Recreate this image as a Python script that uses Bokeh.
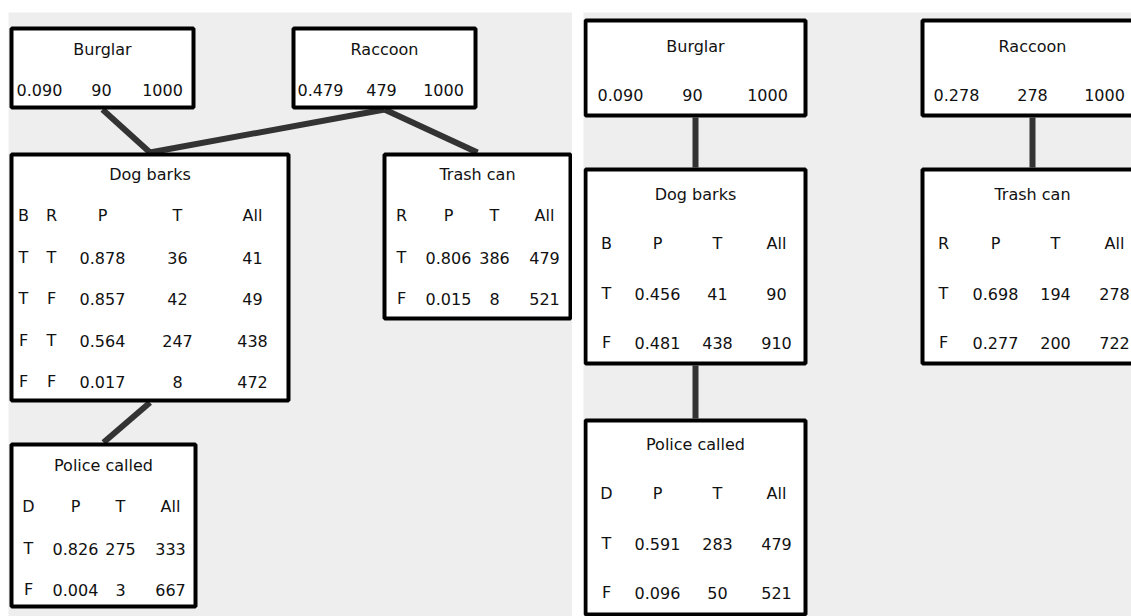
from bokeh.plotting import figure
from bokeh.layouts import row
from bokeh.models import Range1d
from bokeh.core.properties import value
from bokeh.embed import file_html
from bokeh.resources import INLINE

# ---------------- data: left network ----------------
L_burglar = [0.090, 90, 1000]
L_raccoon = [0.479, 479, 1000]

L_dog_header = ["B", "R", "P", "T", "All"]
L_dog_b = ["T", "T", "F", "F"]
L_dog_r = ["T", "F", "T", "F"]
L_dog_p = [0.878, 0.857, 0.564, 0.017]
L_dog_t = [36, 42, 247, 8]
L_dog_all = [41, 49, 438, 472]

L_trash_header = ["R", "P", "T", "All"]
L_trash_r = ["T", "F"]
L_trash_p = [0.806, 0.015]
L_trash_t = [386, 8]
L_trash_all = [479, 521]

L_police_header = ["D", "P", "T", "All"]
L_police_d = ["T", "F"]
L_police_p = [0.826, 0.004]
L_police_t = [275, 3]
L_police_all = [333, 667]

# ---------------- data: right network ----------------
R_burglar = [0.090, 90, 1000]
R_raccoon = [0.278, 278, 1000]

R_dog_header = ["B", "P", "T", "All"]
R_dog_b = ["T", "F"]
R_dog_p = [0.456, 0.481]
R_dog_t = [41, 438]
R_dog_all = [90, 910]

R_trash_header = ["R", "P", "T", "All"]
R_trash_r = ["T", "F"]
R_trash_p = [0.698, 0.277]
R_trash_t = [194, 200]
R_trash_all = [278, 722]

R_police_header = ["D", "P", "T", "All"]
R_police_d = ["T", "F"]
R_police_p = [0.591, 0.096]
R_police_t = [283, 50]
R_police_all = [479, 521]


def fmt(c):
    if isinstance(c, float):
        return f"{c:.3f}"
    return str(c)


def table(header, *cols):
    rows = [] if header is None else [list(header)]
    for r in zip(*cols):
        rows.append([fmt(c) for c in r])
    return rows


L_tables = {
    "Burglar": table(None, *[[v] for v in L_burglar]),
    "Raccoon": table(None, *[[v] for v in L_raccoon]),
    "Dog barks": table(L_dog_header, L_dog_b, L_dog_r, L_dog_p, L_dog_t, L_dog_all),
    "Trash can": table(L_trash_header, L_trash_r, L_trash_p, L_trash_t, L_trash_all),
    "Police called": table(L_police_header, L_police_d, L_police_p, L_police_t, L_police_all),
}
R_tables = {
    "Burglar": table(None, *[[v] for v in R_burglar]),
    "Raccoon": table(None, *[[v] for v in R_raccoon]),
    "Dog barks": table(R_dog_header, R_dog_b, R_dog_p, R_dog_t, R_dog_all),
    "Trash can": table(R_trash_header, R_trash_r, R_trash_p, R_trash_t, R_trash_all),
    "Police called": table(R_police_header, R_police_d, R_police_p, R_police_t, R_police_all),
}

# ---------------- layout (page-pixel coordinates) ----------------
# box: (left, top, right, bottom), title y, row ys, column xs
L_layout = {
    "Burglar": ((9, 26, 195, 109), 49, [89], [39, 101, 162]),
    "Raccoon": ((291, 26, 477, 109), 49, [89], [320, 381, 443]),
    "Dog barks": ((9, 152, 290, 402), 174, [215, 257, 298, 340, 381], [23, 51, 102, 177, 252]),
    "Trash can": ((382, 152, 572, 320), 174, [215, 257, 298], [401, 448, 494, 544]),
    "Police called": ((9, 442, 197, 608), 465, [506, 548, 589], [28, 75, 120, 170]),
}
L_edges = [("Burglar", "Dog barks"), ("Raccoon", "Dog barks"),
           ("Raccoon", "Trash can"), ("Dog barks", "Police called")]

R_layout = {
    "Burglar": ((583, 18, 807, 117), 46, [94], [620, 692, 767]),
    "Raccoon": ((920, 18, 1144, 117), 46, [94], [956, 1032, 1104]),
    "Dog barks": ((583, 167, 807, 365), 194, [243, 293, 342], [606, 657, 717, 776]),
    "Trash can": ((920, 167, 1144, 365), 194, [243, 293, 342], [943, 995, 1055, 1114]),
    "Police called": ((583, 418, 807, 616), 444, [493, 543, 592], [606, 657, 717, 776]),
}
R_edges = [("Burglar", "Dog barks"), ("Raccoon", "Trash can"), ("Dog barks", "Police called")]

FONT = value("DejaVu Sans")
PAGE_H = 616


def make_fig(x0, x1, width, min_left):
    p = figure(width=width, height=PAGE_H, x_range=Range1d(x0, x1), y_range=Range1d(PAGE_H, 12),
               output_backend="svg", toolbar_location=None,
               x_axis_location=None, y_axis_location=None,
               min_border_left=min_left, min_border_right=0,
               min_border_top=12, min_border_bottom=0,
               background_fill_color="#eeeeee", border_fill_color="white",
               outline_line_color=None)
    p.xgrid.visible = False
    p.ygrid.visible = False
    return p


def draw(p, layout, tables, edges):
    x0, y0, x1, y1 = [], [], [], []
    for a, b in edges:
        (al, at, ar, ab) = layout[a][0]
        (bl, bt, br, bb) = layout[b][0]
        x0.append((al + ar) / 2)
        y0.append(ab)
        x1.append((bl + br) / 2)
        y1.append(bt)
    p.segment(x0=x0, y0=y0, x1=x1, y1=y1, line_color="#333333", line_width=6)

    lefts, rights, tops, bottoms = [], [], [], []
    tx, ty, tt = [], [], []
    for name, (box, title_y, row_ys, col_xs) in layout.items():
        l, t, r, b = box
        lefts.append(l + 2)
        rights.append(r - 2)
        tops.append(t + 2)
        bottoms.append(b - 2)
        tx.append((l + r) / 2)
        ty.append(title_y)
        tt.append(name)
        for ry, cells in zip(row_ys, tables[name]):
            for cx, c in zip(col_xs, cells):
                tx.append(cx)
                ty.append(ry)
                tt.append(c)
    p.quad(left=lefts, right=rights, top=tops, bottom=bottoms,
           fill_color="white", line_color="black", line_width=4)
    p.text(x=tx, y=ty, text=tt, text_align="center", text_baseline="middle",
           text_font=FONT, text_font_size="16px", text_color="#111111")


p1 = make_fig(8, 572, 572, 8)
draw(p1, L_layout, L_tables, L_edges)

p2 = make_fig(583, 1131, 559, 11)
draw(p2, R_layout, R_tables, R_edges)

layout = row(p1, p2)
open("out.html", "w").write(file_html(layout, INLINE))
